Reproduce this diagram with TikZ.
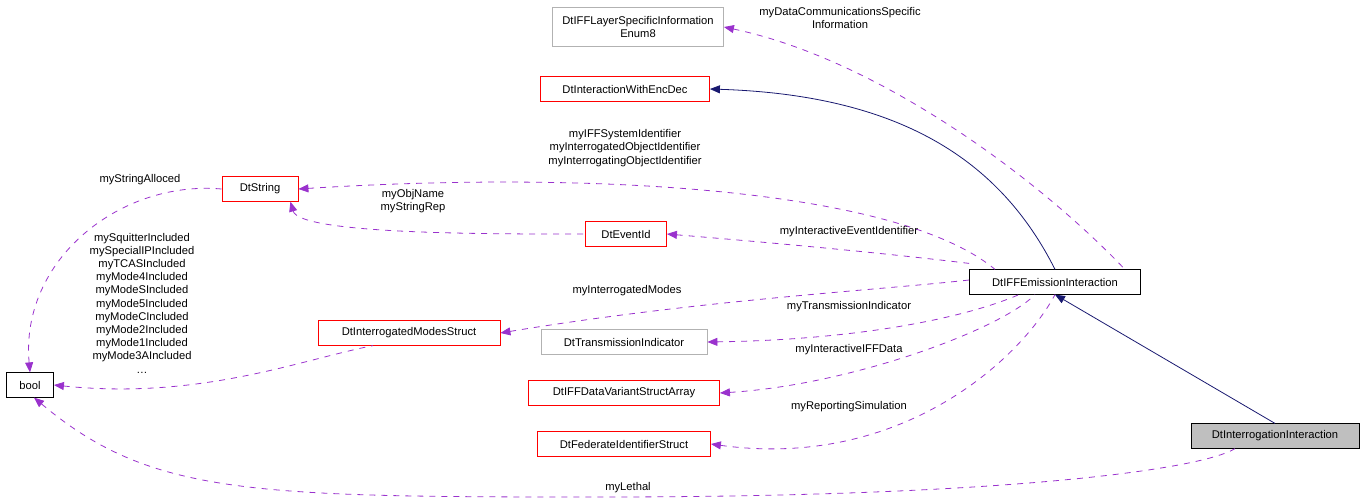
\documentclass[tikz,border=0pt]{standalone}
\usepackage{fontspec}
\setmainfont{Liberation Sans}
\usetikzlibrary{arrows.meta}
\definecolor{usecol}{HTML}{9A32CD}
\definecolor{inhcol}{HTML}{191970}
\begin{document}
\begin{tikzpicture}[
        x=0.5pt, y=-0.5pt,
        font=\fontsize{5.6}{6.6}\selectfont,
        cls/.style={rectangle, draw=red, fill=white, inner sep=1pt, minimum height=12.2pt, align=center},
        ext/.style={cls, draw=black!30},
        main/.style={cls, draw=black},
        inherit/.style={draw=inhcol, {Triangle[width=4pt,length=5pt]}-},
        usage/.style={draw=usecol, dashed, {Triangle[width=4pt,length=5pt]}-},
        lbl/.style={align=center, inner sep=0pt}
    ]
        \useasboundingbox (0,0) rectangle (1368,503);

        % classes
        \node[ext, minimum width=85.5pt, minimum height=19.5pt] (layer) at (638,27) {DtIFFLayerSpecificInformation\\Enum8};
        \node[cls, minimum width=84.5pt] (encdec) at (625,89) {DtInteractionWithEncDec};
        \node[cls, minimum width=38pt] (dtstring) at (260,189) {DtString};
        \node[cls, minimum width=40.5pt] (eventid) at (626,234) {DtEventId};
        \node[main, minimum width=85.5pt] (emission) at (1055,282) {DtIFFEmissionInteraction};
        \node[cls, minimum width=91pt] (modes) at (409,333) {DtInterrogatedModesStruct};
        \node[ext, minimum width=83pt] (transm) at (624,342) {DtTransmissionIndicator};
        \node[cls, minimum width=95.5pt] (variant) at (624,393) {DtIFFDataVariantStructArray};
        \node[cls, minimum width=86.5pt] (federate) at (624,444) {DtFederateIdentifierStruct};
        \node[main, minimum width=23.5pt] (bool) at (30,385) {bool};
        \node[main, fill=black!25, minimum width=84pt] (interrog) at (1275,436) {DtInterrogationInteraction};

        % inheritance
        \draw[inherit] (encdec.east) .. controls (900,95) and (1000,160) .. (emission.north);
        \draw[inherit] (emission.south) -- (interrog.north);

        % usage
        \draw[usage] (layer.east) .. controls (880,60) and (1040,180) .. ([xshift=-8pt]emission.north east);
        \draw[usage] (dtstring.east) .. controls (600,170) and (900,190) .. ([xshift=-30pt]emission.north);
        \draw[usage] ([xshift=-4pt]dtstring.south east) .. controls (300,235) and (500,234) .. (eventid.west);
        \draw[usage] (eventid.east) .. controls (800,245) and (900,255) .. ([yshift=3pt]emission.north west);
        \draw[usage] (modes.east) .. controls (700,300) and (880,290) .. ([yshift=1pt]emission.west);
        \draw[usage] (transm.east) .. controls (850,340) and (960,320) .. ([xshift=-18pt]emission.south);
        \draw[usage] (variant.east) .. controls (850,385) and (1000,330) .. ([xshift=-10pt]emission.south);
        \draw[usage] (federate.east) .. controls (900,470) and (1020,360) .. (emission.south);
        \draw[usage] (bool.north) .. controls (20,260) and (120,180) .. (dtstring.west);
        \draw[usage] (bool.east) .. controls (200,400) and (300,360) .. ([xshift=-18pt]modes.south);
        \draw[usage] ([xshift=2pt]bool.south) .. controls (150,495) and (250,497) .. (600,497) .. controls (1000,497) and (1200,470) .. ([xshift=-20pt]interrog.south);

        % labels
        \node[lbl] at (840,18) {myDataCommunicationsSpecific\\Information};
        \node[lbl] at (625,148) {myIFFSystemIdentifier\\myInterrogatedObjectIdentifier\\myInterrogatingObjectIdentifier};
        \node[lbl] at (413,201) {myObjName\\myStringRep};
        \node[lbl] at (849,232) {myInteractiveEventIdentifier};
        \node[lbl] at (627,291) {myInterrogatedModes};
        \node[lbl] at (849,307) {myTransmissionIndicator};
        \node[lbl] at (849,350) {myInteractiveIFFData};
        \node[lbl] at (849,407) {myReportingSimulation};
        \node[lbl] at (140,180) {myStringAlloced};
        \node[lbl] at (142,303) {mySquitterIncluded\\mySpecialIPIncluded\\myTCASIncluded\\myMode4Included\\myModeSIncluded\\myMode5Included\\myModeCIncluded\\myMode2Included\\myMode1Included\\myMode3AIncluded\\\dots};
        \node[lbl] at (628,488) {myLethal};
    \end{tikzpicture}
\end{document}
